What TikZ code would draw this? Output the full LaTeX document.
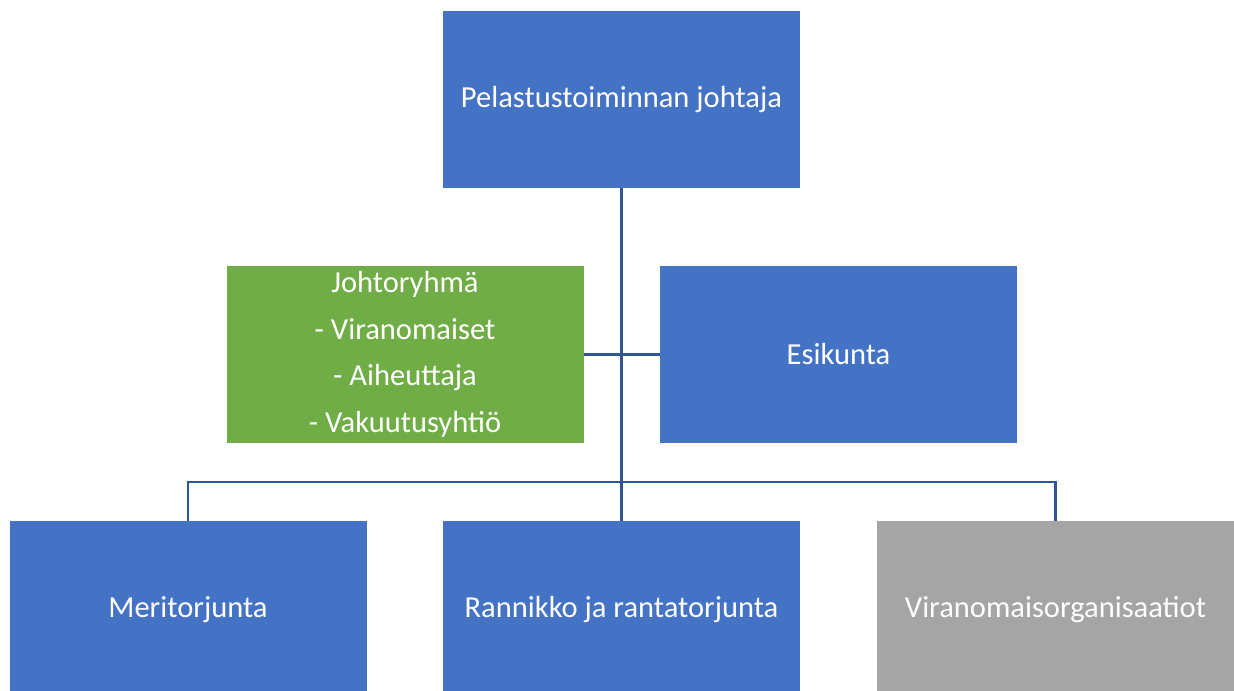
\documentclass[tikz,border=0pt]{standalone}
\usepackage{fontspec}
\setmainfont{Carlito}
\usetikzlibrary{positioning}
\definecolor{boxblue}{RGB}{68, 114, 196}
\definecolor{boxgreen}{RGB}{112, 173, 71}
\definecolor{boxgray}{RGB}{165, 165, 165}
\definecolor{linenavy}{RGB}{47, 85, 151}
\tikzset{
  orgbox/.style={fill=boxblue, text=white, align=center, inner sep=0pt, minimum width=267.75pt, minimum height=132.75pt},
  orgline/.style={draw=linenavy, line width=1.8pt}
}
\begin{document}
\begin{tikzpicture}[x=0.75pt, y=-0.75pt, font=\fontsize{22.9}{34.9}\selectfont]
    \useasboundingbox (0,0) rectangle (1234,691);
    \node[orgbox] (chief) at (621.5,99.5) {Pelastustoiminnan johtaja};
    \node[orgbox, fill=boxgreen] (group) at (405,354.5) {
        Johtoryhmä\\
        - Viranomaiset\\
        - Aiheuttaja\\
        - Vakuutusyhtiö
    };
    \node[orgbox] (staff) at (838.5,354.5) {Esikunta};
    \node[orgbox] (sea) at (188,609.5) {Meritorjunta};
    \node[orgbox] (shore) at (621.5,609.5) {Rannikko ja rantatorjunta};
    \node[orgbox, fill=boxgray] (auth) at (1055.5,609.5) {Viranomaisorganisaatiot};
    \coordinate (bus) at (621.5,482);
    \draw[orgline] (chief.south) -- (shore.north);
    \draw[orgline] (group.east) -- (staff.west);
    \draw[orgline] (sea.north) |- (bus) -| (auth.north);
\end{tikzpicture}
\end{document}
